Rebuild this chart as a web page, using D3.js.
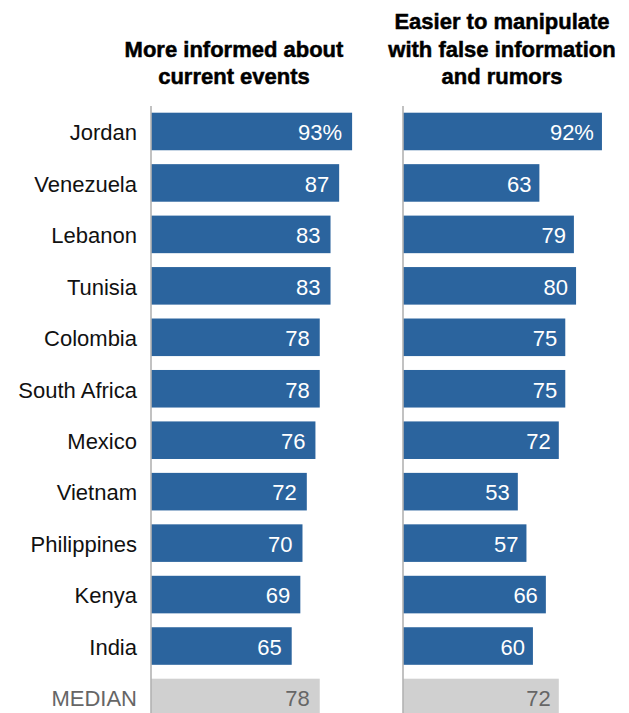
<!DOCTYPE html>
<html>
<head>
<meta charset="utf-8">
<script src="https://cdn.jsdelivr.net/npm/d3@7"></script>
<style>
  html, body { margin: 0; padding: 0; background: #fff; }
  svg { display: block; }
</style>
</head>
<body>
<svg id="chart" width="629" height="713"></svg>
<script>
const categories = ["Jordan", "Venezuela", "Lebanon", "Tunisia", "Colombia", "South Africa", "Mexico", "Vietnam", "Philippines", "Kenya", "India", "MEDIAN"];
const informedValues = [93, 87, 83, 83, 78, 78, 76, 72, 70, 69, 65, 78];
const manipulateValues = [92, 63, 79, 80, 75, 75, 72, 53, 57, 66, 60, 72];
const panelTitles = [
  ["More informed about", "current events"],
  ["Easier to manipulate", "with false information", "and rumors"]
];

const svg = d3.select("#chart");
const FONT = "'Liberation Sans', Arial, sans-serif";
const BLUE = "#2b649e";
const GREY = "#d0d0d0";

const y = d3.scaleBand()
  .domain(categories)
  .range([112.7, 112.7 + 11 * 51.46 + 37.5])
  .paddingInner(0.27)
  .paddingOuter(0);

const panels = [
  { x0: 151.5, values: informedValues, title: panelTitles[0], titleX: 234, pad: 10 },
  { x0: 403.5, values: manipulateValues, title: panelTitles[1], titleX: 502, pad: 8 }
];

// Row labels
svg.append("g").selectAll("text")
  .data(categories)
  .join("text")
  .attr("x", 137)
  .attr("y", d => y(d) + y.bandwidth() / 2)
  .attr("dy", "0.4em")
  .attr("text-anchor", "end")
  .attr("font-family", FONT)
  .attr("font-size", 22)
  .attr("fill", d => d === "MEDIAN" ? "#666" : "#111")
  .text(d => d);

panels.forEach(p => {
  const x = d3.scaleLinear().domain([0, 100]).range([p.x0, p.x0 + 215.7]);
  const g = svg.append("g");

  // title
  const nLines = p.title.length;
  const lastBaseline = 84;
  g.append("g").selectAll("text")
    .data(p.title)
    .join("text")
    .attr("x", p.titleX)
    .attr("y", (d, i) => lastBaseline - (nLines - 1 - i) * 27.5)
    .attr("text-anchor", "middle")
    .attr("font-family", FONT)
    .attr("font-weight", "bold")
    .attr("font-size", 22)
    .attr("fill", "#000")
    .attr("stroke", "#000")
    .attr("stroke-width", 0.5)
    .text(d => d);

  const rows = categories.map((c, i) => ({ c, v: p.values[i], median: c === "MEDIAN", first: i === 0 }));

  g.append("g").selectAll("rect")
    .data(rows)
    .join("rect")
    .attr("x", x(0))
    .attr("y", d => y(d.c))
    .attr("width", d => x(d.v) - x(0))
    .attr("height", y.bandwidth())
    .attr("fill", d => d.median ? GREY : BLUE);

  g.append("g").selectAll("text")
    .data(rows)
    .join("text")
    .attr("x", d => x(d.v) - p.pad)
    .attr("y", d => y(d.c) + y.bandwidth() / 2)
    .attr("dy", "0.4em")
    .attr("text-anchor", "end")
    .attr("font-family", FONT)
    .attr("font-size", 22)
    .attr("fill", d => d.median ? "#666" : "#fff")
    .text(d => d.first ? d.v + "%" : d.v);

  // axis line
  g.append("line")
    .attr("x1", x(0) - 0.5).attr("x2", x(0) - 0.5)
    .attr("y1", 106).attr("y2", 713)
    .attr("stroke", "#999")
    .attr("stroke-width", 1.2);
});
</script>
</body>
</html>
